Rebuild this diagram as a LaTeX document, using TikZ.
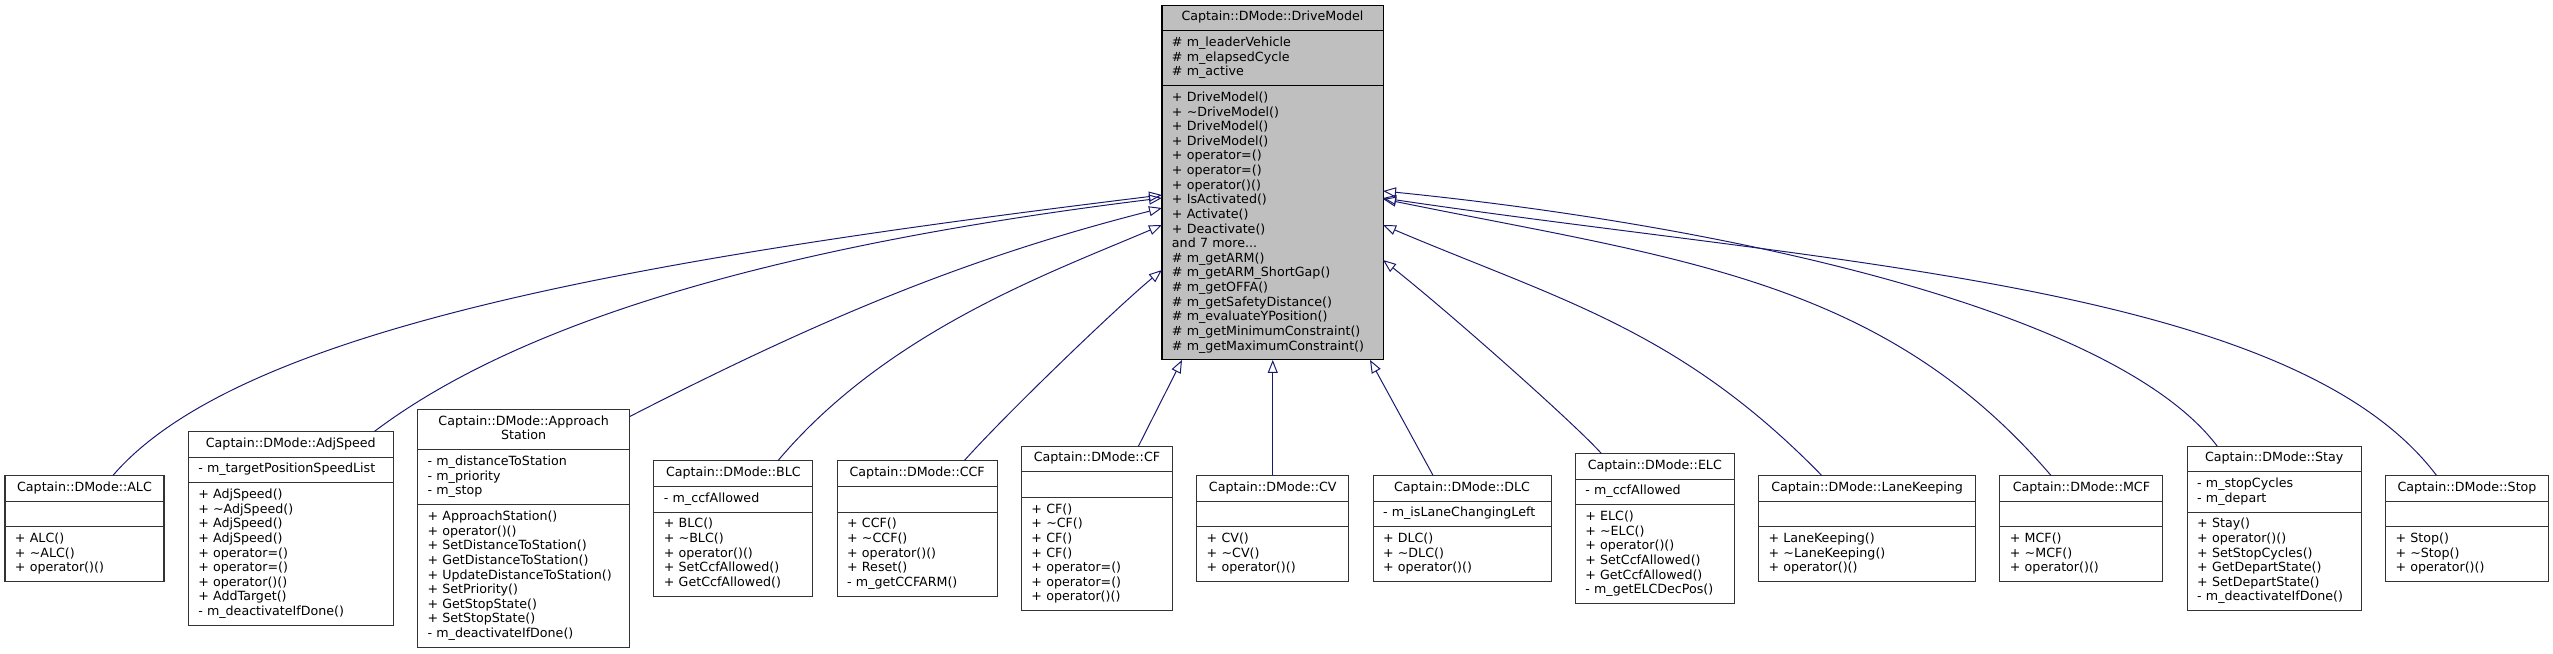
\documentclass[tikz,border=0pt]{standalone}
\usepackage{fontspec}
\setmainfont{DejaVu Sans}
\usetikzlibrary{arrows.meta, positioning, shapes.multipart, calc}
\definecolor{edgeblue}{HTML}{191970}
\definecolor{basegray}{HTML}{BFBFBF}
\definecolor{boxline}{HTML}{333333}
\newcommand{\ctitle}[1]{\noindent\makebox[\hsize][c]{\strut#1}}
\newcommand{\cmem}[1]{\noindent\strut#1\strut}
\newcommand{\dtor}{\textasciitilde}

\begin{document}
\begin{tikzpicture}[
    x=0.025cm, y=-0.025cm,
    node distance=0.606cm,
    cls/.style={rectangle split, rectangle split parts=3, draw=boxline, line width=0.75pt, fill=white,
        inner xsep=0.25cm, inner ysep=3.55pt, outer sep=0pt, align=left, font=\fontsize{9}{10.4}\selectfont},
    inherit/.style={draw=edgeblue, line width=0.7pt, -{Triangle[open, length=0.325cm, width=0.25cm]}},
]
\useasboundingbox (0,0) rectangle (2553,653);

% base class
\node[cls, fill=basegray, draw=black, text width=5.025cm] (base) at (1272.5,182.5)
    {\ctitle{Captain::DMode::DriveModel}
     \nodepart{two}\cmem{\# m\_leaderVehicle\\\# m\_elapsedCycle\\\# m\_active}
     \nodepart{three}\cmem{+ DriveModel()\\+ \dtor DriveModel()\\+ DriveModel()\\+ DriveModel()\\+ operator=()\\+ operator=()\\+ operator()()\\+ IsActivated()\\+ Activate()\\+ Deactivate()\\and 7 more...\\\# m\_getARM()\\\# m\_getARM\_ShortGap()\\\# m\_getOFFA()\\\# m\_getSafetyDistance()\\\# m\_evaluateYPosition()\\\# m\_getMinimumConstraint()\\\# m\_getMaximumConstraint()}};

% derived classes
\node[cls, text width=3.475cm] (alc) at (84.5,528.5)
    {\ctitle{Captain::DMode::ALC}\nodepart{two}\cmem{}
     \nodepart{three}\cmem{+ ALC()\\+ \dtor ALC()\\+ operator()()}};
\node[cls, text width=4.625cm, right=of alc] (adjspeed)
    {\ctitle{Captain::DMode::AdjSpeed}\nodepart{two}\cmem{- m\_targetPositionSpeedList}
     \nodepart{three}\cmem{+ AdjSpeed()\\+ \dtor AdjSpeed()\\+ AdjSpeed()\\+ AdjSpeed()\\+ operator=()\\+ operator=()\\+ operator()()\\+ AddTarget()\\- m\_deactivateIfDone()}};
\node[cls, text width=4.8cm, right=of adjspeed] (appstation)
    {\ctitle{Captain::DMode::Approach}\\\ctitle{Station\strut}
     \nodepart{two}\cmem{- m\_distanceToStation\\- m\_priority\\- m\_stop}
     \nodepart{three}\cmem{+ ApproachStation()\\+ operator()()\\+ SetDistanceToStation()\\+ GetDistanceToStation()\\+ UpdateDistanceToStation()\\+ SetPriority()\\+ GetStopState()\\+ SetStopState()\\- m\_deactivateIfDone()}};
\node[cls, text width=3.475cm, right=of appstation] (blc)
    {\ctitle{Captain::DMode::BLC}\nodepart{two}\cmem{- m\_ccfAllowed}
     \nodepart{three}\cmem{+ BLC()\\+ \dtor BLC()\\+ operator()()\\+ SetCcfAllowed()\\+ GetCcfAllowed()}};
\node[cls, text width=3.5cm, right=of blc] (ccf)
    {\ctitle{Captain::DMode::CCF}\nodepart{two}\cmem{}
     \nodepart{three}\cmem{+ CCF()\\+ \dtor CCF()\\+ operator()()\\+ Reset()\\- m\_getCCFARM()}};
\node[cls, text width=3.275cm, right=of ccf] (cf)
    {\ctitle{Captain::DMode::CF}\nodepart{two}\cmem{}
     \nodepart{three}\cmem{+ CF()\\+ \dtor CF()\\+ CF()\\+ CF()\\+ operator=()\\+ operator=()\\+ operator()()}};
\node[cls, text width=3.3cm, right=of cf] (cv)
    {\ctitle{Captain::DMode::CV}\nodepart{two}\cmem{}
     \nodepart{three}\cmem{+ CV()\\+ \dtor CV()\\+ operator()()}};
\node[cls, text width=3.95cm, right=of cv] (dlc)
    {\ctitle{Captain::DMode::DLC}\nodepart{two}\cmem{- m\_isLaneChangingLeft}
     \nodepart{three}\cmem{+ DLC()\\+ \dtor DLC()\\+ operator()()}};
\node[cls, text width=3.475cm, right=of dlc] (elc)
    {\ctitle{Captain::DMode::ELC}\nodepart{two}\cmem{- m\_ccfAllowed}
     \nodepart{three}\cmem{+ ELC()\\+ \dtor ELC()\\+ operator()()\\+ SetCcfAllowed()\\+ GetCcfAllowed()\\- m\_getELCDecPos()}};
\node[cls, text width=4.925cm, right=of elc] (lanekeep)
    {\ctitle{Captain::DMode::LaneKeeping}\nodepart{two}\cmem{}
     \nodepart{three}\cmem{+ LaneKeeping()\\+ \dtor LaneKeeping()\\+ operator()()}};
\node[cls, text width=3.575cm, right=of lanekeep] (mcf)
    {\ctitle{Captain::DMode::MCF}\nodepart{two}\cmem{}
     \nodepart{three}\cmem{+ MCF()\\+ \dtor MCF()\\+ operator()()}};
\node[cls, text width=3.85cm, right=of mcf] (stay)
    {\ctitle{Captain::DMode::Stay}\nodepart{two}\cmem{- m\_stopCycles\\- m\_depart}
     \nodepart{three}\cmem{+ Stay()\\+ operator()()\\+ SetStopCycles()\\+ GetDepartState()\\+ SetDepartState()\\- m\_deactivateIfDone()}};
\node[cls, text width=3.575cm, right=of stay] (stop)
    {\ctitle{Captain::DMode::Stop}\nodepart{two}\cmem{}
     \nodepart{three}\cmem{+ Stop()\\+ \dtor Stop()\\+ operator()()}};

% inheritance edges, left side
\draw[inherit] ($(alc.north)+(28.5,0)$) .. controls (243,324) and (665,256) .. ($(base.west)+(0,12.5)$);
\draw[inherit] ($(adjspeed.north)+(83.5,0)$) .. controls (534,311) and (814,241) .. ($(base.west)+(0,15.5)$);
\draw[inherit] ($(appstation.north east)+(0,7)$) .. controls (824,317) and (969,257) .. ($(base.west)+(0,25.5)$);
\draw[inherit] ($(blc.north)+(44.5,0)$) .. controls (887,331) and (1052,272) .. ($(base.west)+(0,42.5)$);
\draw[inherit] ($(ccf.north)+(47,0)$) .. controls (1004,416) and (1116,308) .. ($(base.west)+(0,87.5)$);
% bottom
\draw[inherit] ($(cf.north)+(41.5,0)$) -- ($(base.south)+(-90.5,0)$);
\draw[inherit] (cv.north) -- (cv.north |- base.south);
\draw[inherit] ($(dlc.north)+(-29,0)$) -- ($(base.south)+(97.5,0)$);
% right side
\draw[inherit] ($(elc.north)+(-53.5,0)$) .. controls (1575,424) and (1450,313) .. ($(base.east)+(0,77.5)$);
\draw[inherit] ($(lanekeep.north)+(-45.5,0)$) .. controls (1680,330) and (1560,300) .. ($(base.east)+(0,42.5)$);
\draw[inherit] ($(mcf.north)+(-30.5,0)$) .. controls (1882,278) and (1677,259) .. ($(base.east)+(0,16.5)$);
\draw[inherit] ($(stay.north)+(-57,0)$) .. controls (2115,311) and (1731,226) .. ($(base.east)+(0,8.5)$);
\draw[inherit] ($(stop.north)+(-30.5,0)$) .. controls (2292,284) and (1828,264) .. ($(base.east)+(0,15.5)$);
\end{tikzpicture}
\end{document}
